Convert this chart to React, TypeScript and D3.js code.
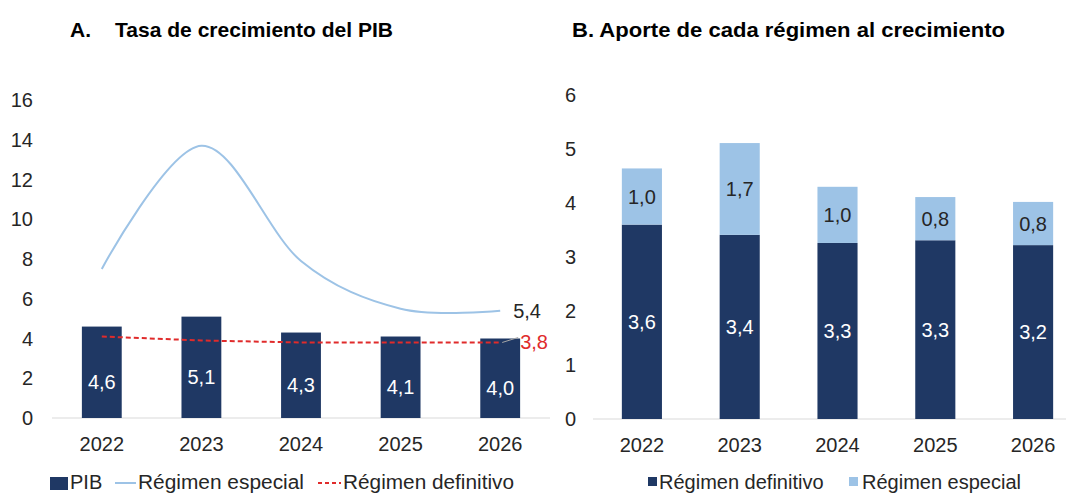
import React from "react";
import * as d3 from "d3";

const years = ["2022", "2023", "2024", "2025", "2026"];
const pib = [4.6, 5.1, 4.3, 4.1, 4.0];
const especialGrowth = [7.5, 13.7, 7.9, 5.5, 5.4];
const definitivoGrowth = [4.1, 3.9, 3.8, 3.8, 3.8];
const leftTicks = [0, 2, 4, 6, 8, 10, 12, 14, 16];

const aporteDefinitivo = [3.6, 3.41, 3.26, 3.31, 3.22];
const aporteEspecial = [1.04, 1.7, 1.04, 0.8, 0.8];
const rightTicks = [0, 1, 2, 3, 4, 5, 6];

const NAVY = "#1F3864";
const LIGHT = "#9DC3E6";
const RED = "#E02B2B";
const TXT = "#262626";
const AXIS = "#D9D9D9";
const FONT = "'Liberation Sans', Arial, sans-serif";

const fmt = (v: number) => v.toFixed(1).replace(".", ",");

export default function App() {
  // Left panel scales
  const xL = d3.scaleBand().domain(years).range([52, 550]).paddingInner(0.6).paddingOuter(0.3);
  const yL = d3.scaleLinear().domain([0, 16]).range([418, 100]);
  const bwL = xL.bandwidth();
  const cxL = (y: string) => (xL(y) as number) + bwL / 2;

  const lineEsp = d3
    .line<number>()
    .x((_, i) => cxL(years[i]))
    .y((d) => yL(d))
    .curve(d3.curveCardinal.tension(0));
  const lineDef = d3
    .line<number>()
    .x((_, i) => cxL(years[i]))
    .y((d) => yL(d));

  // Right panel scales
  const xR = d3.scaleBand().domain(years).range([593, 1082]).paddingInner(0.59).paddingOuter(0.295);
  const yR = d3.scaleLinear().domain([0, 6]).range([419, 95]);
  const bwR = xR.bandwidth();
  const cxR = (y: string) => (xR(y) as number) + bwR / 2;

  const last = years.length - 1;

  return (
    <svg
      width={1066}
      height={494}
      style={{ position: "absolute", left: 0, top: 0, background: "#fff" }}
      fontFamily={FONT}
    >
      {/* Titles */}
      <text x={70} y={37} fontSize={21} fontWeight="bold" fill="#000">A.</text>
      <text x={115} y={37} fontSize={21} fontWeight="bold" fill="#000" textLength={278} lengthAdjust="spacingAndGlyphs">
        Tasa de crecimiento del PIB
      </text>
      <text x={572} y={37} fontSize={21} fontWeight="bold" fill="#000" textLength={433} lengthAdjust="spacingAndGlyphs">
        B. Aporte de cada régimen al crecimiento
      </text>

      {/* ===== Left panel ===== */}
      {leftTicks.map((t) => (
        <text key={"lt" + t} x={33} y={yL(t)} dy="0.35em" textAnchor="end" fontSize={20} fill={TXT}>
          {t}
        </text>
      ))}
      <line x1={52} x2={550} y1={yL(0)} y2={yL(0)} stroke={AXIS} strokeWidth={1.2} />
      {years.map((y, i) => (
        <rect key={"pb" + y} x={xL(y)} y={yL(pib[i])} width={bwL} height={yL(0) - yL(pib[i])} fill={NAVY} />
      ))}
      {years.map((y, i) => (
        <text
          key={"pl" + y}
          x={cxL(y)}
          y={yL(pib[i] / 2) + 10}
          dy="0.35em"
          textAnchor="middle"
          fontSize={20}
          fill="#fff"
        >
          {fmt(pib[i])}
        </text>
      ))}
      <path d={lineEsp(especialGrowth) || ""} fill="none" stroke={LIGHT} strokeWidth={2} />
      <path d={lineDef(definitivoGrowth) || ""} fill="none" stroke={RED} strokeWidth={2} strokeDasharray="5,3" />
      <text x={cxL(years[last]) + 13} y={yL(especialGrowth[last])} dy="0.35em" fontSize={20} fill={TXT}>
        {fmt(especialGrowth[last])}
      </text>
      <line
        x1={cxL(years[last]) + 2}
        y1={yL(definitivoGrowth[last])}
        x2={cxL(years[last]) + 18}
        y2={yL(definitivoGrowth[last]) - 5}
        stroke="#A6A6A6"
        strokeWidth={1}
      />
      <text x={cxL(years[last]) + 20} y={yL(definitivoGrowth[last])} dy="0.35em" fontSize={20} fill={RED}>
        {fmt(definitivoGrowth[last])}
      </text>
      {years.map((y) => (
        <text key={"lx" + y} x={cxL(y)} y={451} textAnchor="middle" fontSize={20} fill={TXT}>
          {y}
        </text>
      ))}
      {/* Left legend */}
      <rect x={50} y={477} width={18} height={13} fill={NAVY} />
      <text x={70} y={489} fontSize={20} fill={TXT}>PIB</text>
      <line x1={115} x2={136} y1={483} y2={483} stroke={LIGHT} strokeWidth={2} />
      <text x={138} y={489} fontSize={20} fill={TXT} textLength={166} lengthAdjust="spacingAndGlyphs">Régimen especial</text>
      <line x1={318} x2={341} y1={483} y2={483} stroke={RED} strokeWidth={2} strokeDasharray="4,3" />
      <text x={343} y={489} fontSize={20} fill={TXT} textLength={171} lengthAdjust="spacingAndGlyphs">Régimen definitivo</text>

      {/* ===== Right panel ===== */}
      {rightTicks.map((t) => (
        <text key={"rt" + t} x={576} y={yR(t)} dy="0.35em" textAnchor="end" fontSize={20} fill={TXT}>
          {t}
        </text>
      ))}
      <line x1={593} x2={1066} y1={yR(0)} y2={yR(0)} stroke={AXIS} strokeWidth={1.2} />
      {years.map((y, i) => (
        <g key={"rb" + y}>
          <rect
            x={xR(y)}
            y={yR(aporteDefinitivo[i])}
            width={bwR}
            height={yR(0) - yR(aporteDefinitivo[i])}
            fill={NAVY}
          />
          <rect
            x={xR(y)}
            y={yR(aporteDefinitivo[i] + aporteEspecial[i])}
            width={bwR}
            height={yR(aporteDefinitivo[i]) - yR(aporteDefinitivo[i] + aporteEspecial[i])}
            fill={LIGHT}
          />
          <text
            x={cxR(y)}
            y={yR(aporteDefinitivo[i] / 2)}
            dy="0.35em"
            textAnchor="middle"
            fontSize={20}
            fill="#fff"
          >
            {fmt(aporteDefinitivo[i])}
          </text>
          <text
            x={cxR(y)}
            y={yR(aporteDefinitivo[i] + aporteEspecial[i] / 2)}
            dy="0.35em"
            textAnchor="middle"
            fontSize={20}
            fill={TXT}
          >
            {fmt(aporteEspecial[i])}
          </text>
          <text x={cxR(y)} y={452} textAnchor="middle" fontSize={20} fill={TXT}>
            {y}
          </text>
        </g>
      ))}
      {/* Right legend */}
      <rect x={648} y={477} width={9} height={9} fill={NAVY} />
      <text x={659} y={489} fontSize={20} fill={TXT}>Régimen definitivo</text>
      <rect x={849} y={477} width={9} height={9} fill={LIGHT} />
      <text x={862} y={489} fontSize={20} fill={TXT}>Régimen especial</text>
    </svg>
  );
}
